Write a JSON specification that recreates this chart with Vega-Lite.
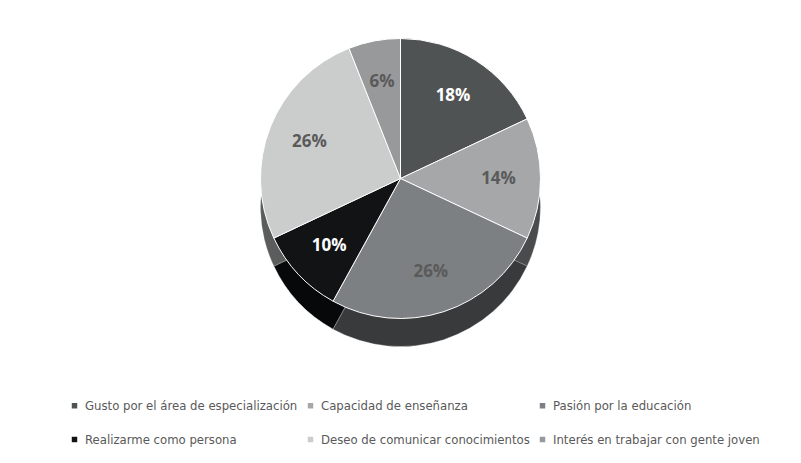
{
  "$schema": "https://vega.github.io/schema/vega-lite/v6.json",
  "width": 801,
  "height": 463,
  "autosize": {"type": "fit", "contains": "padding"},
  "padding": {"top": 0, "bottom": 0, "left": 0, "right": 0},
  "background": "white",
  "config": {"view": {"stroke": null}},
  "data": {
    "values": [
      {"idx": 1, "cat": "Gusto por el área de especialización", "pct": 0.18},
      {"idx": 2, "cat": "Capacidad de enseñanza", "pct": 0.14},
      {"idx": 3, "cat": "Pasión por la educación", "pct": 0.26},
      {"idx": 4, "cat": "Realizarme como persona", "pct": 0.10},
      {"idx": 5, "cat": "Deseo de comunicar conocimientos", "pct": 0.26},
      {"idx": 6, "cat": "Interés en trabajar con gente joven", "pct": 0.06}
    ]
  },
  "encoding": {
    "theta": {"field": "pct", "type": "quantitative", "stack": true},
    "order": {"field": "idx", "type": "quantitative"}
  },
  "layer": [
    {
      "mark": {"type": "arc", "outerRadius": 140, "yOffset": -25, "stroke": "#ffffff", "strokeWidth": 1},
      "encoding": {
        "color": {"field": "cat", "type": "nominal"}
      }
    },
    {
      "mark": {"type": "arc", "outerRadius": 140, "yOffset": -25, "fill": "#000000", "opacity": 0.55, "strokeWidth": 0},
      "encoding": {}
    },
    {
      "mark": {"type": "arc", "outerRadius": 140, "yOffset": -53, "stroke": "#ffffff", "strokeWidth": 1},
      "encoding": {
        "color": {
          "field": "cat", "type": "nominal",
          "scale": {
            "domain": ["Gusto por el área de especialización", "Capacidad de enseñanza", "Pasión por la educación", "Realizarme como persona", "Deseo de comunicar conocimientos", "Interés en trabajar con gente joven"],
            "range": ["#505354", "#a5a7a8", "#7d8083", "#111315", "#cbcdcc", "#97999b"]
          },
          "legend": {
            "title": null,
            "orient": "none",
            "legendX": 68,
            "legendY": 399,
            "direction": "horizontal",
            "columns": 3,
            "symbolType": "square",
            "symbolSize": 30,
            "symbolStrokeWidth": 0,
            "labelFont": "DejaVu Sans Condensed, Liberation Sans",
            "labelFontSize": 13,
            "labelColor": "#595959",
            "columnPadding": 6,
            "rowPadding": 20,
            "labelLimit": 300
          }
        }
      }
    },
    {
      "mark": {"type": "text", "radius": 98, "yOffset": -53, "font": "Open Sans", "fontWeight": "bold", "fontSize": 17},
      "encoding": {
        "text": {"field": "pct", "type": "quantitative", "format": ".0%"},
        "color": {
          "condition": {"test": "datum.idx == 1 || datum.idx == 4", "value": "#ffffff"},
          "value": "#5a5a5a"
        }
      }
    }
  ]
}
